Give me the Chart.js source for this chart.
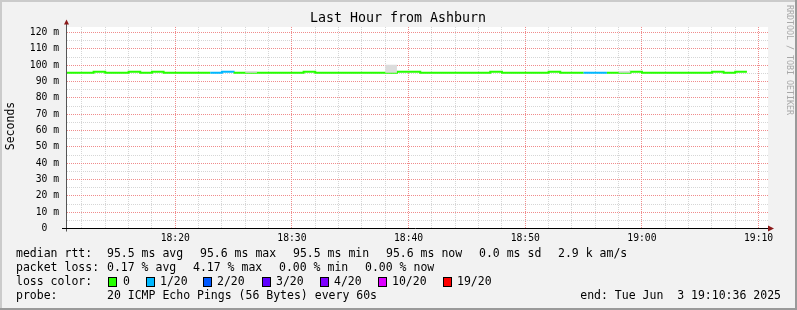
<!DOCTYPE html>
<html>
<head>
<meta charset="utf-8">
<title>Last Hour from Ashburn</title>
<style>
  body { margin: 0; background: #f2f2f2; }
  #wrap { position: relative; width: 797px; height: 310px; }
</style>
</head>
<body>
<div id="wrap"><canvas id="myChart" width="797" height="310"></canvas></div>
<script src="https://cdn.jsdelivr.net/npm/chart.js@4.4.1/dist/chart.umd.min.js"></script>
<script>
// one sample per minute, x = minutes after 18:00
var minutes = [10, 11, 12, 13, 14, 15, 16, 17, 18, 19,
               20, 21, 22, 23, 24, 25, 26, 27, 28, 29,
               30, 31, 32, 33, 34, 35, 36, 37, 38, 39,
               40, 41, 42, 43, 44, 45, 46, 47, 48, 49,
               50, 51, 52, 53, 54, 55, 56, 57, 58, 59,
               60, 61, 62, 63, 64, 65, 66, 67, 68, 69];
// median rtt in ms
var median = [95.3, 95.3, 95.3, 95.9, 95.3, 95.3, 95.9, 95.3, 95.9, 95.3,
              95.3, 95.3, 95.3, 95.3, 95.9, 95.3, 95.3, 95.3, 95.3, 95.3,
              95.3, 95.9, 95.3, 95.3, 95.3, 95.3, 95.3, 95.3, 95.3, 95.9,
              95.9, 95.3, 95.3, 95.3, 95.3, 95.3, 95.3, 95.9, 95.3, 95.3,
              95.3, 95.3, 95.9, 95.3, 95.3, 95.3, 95.3, 95.3, 95.3, 95.9,
              95.3, 95.3, 95.3, 95.3, 95.3, 95.3, 95.9, 95.3, 95.9, 95.9];
// lost pings out of 20
var loss = [0, 0, 0, 0, 0, 0, 0, 0, 0, 0,
            0, 0, 0, 1, 1, 0, 0, 0, 0, 0,
            0, 0, 0, 0, 0, 0, 0, 0, 0, 0,
            0, 0, 0, 0, 0, 0, 0, 0, 0, 0,
            0, 0, 0, 0, 0, 1, 1, 0, 0, 0,
            0, 0, 0, 0, 0, 0, 0, 0, 0, 0];
// top of the smoke (slowest pings), ms
var smokeTop = [95.3, 95.3, 95.3, 95.9, 95.3, 95.3, 95.9, 95.3, 95.9, 95.3,
                95.3, 95.3, 95.3, 95.3, 95.9, 95.3, 96.5, 95.3, 95.3, 95.3,
                95.3, 95.9, 95.3, 95.3, 95.3, 95.3, 95.3, 95.3, 100.2, 95.9,
                95.9, 95.3, 95.3, 95.3, 95.3, 95.3, 95.3, 95.9, 95.3, 95.3,
                95.3, 95.3, 95.9, 95.3, 95.3, 95.3, 95.3, 95.3, 96.5, 95.9,
                95.3, 95.3, 95.3, 95.3, 95.3, 95.3, 95.9, 95.3, 95.9, 95.9];

// grid / tick positions
var xTicks = [12, 14, 16, 18, 20, 22, 24, 26, 28, 30, 32, 34, 36, 38, 40,
              42, 44, 46, 48, 50, 52, 54, 56, 58, 60, 62, 64, 66, 68, 70];
var yTicks = [0, 5, 10, 15, 20, 25, 30, 35, 40, 45, 50, 55, 60,
              65, 70, 75, 80, 85, 90, 95, 100, 105, 110, 115, 120];

var lossSteps = [0, 1, 2, 3, 4, 10, 19];
var lossLabels = ['0', '1/20', '2/20', '3/20', '4/20', '10/20', '19/20'];
var lossColors = ['#26ff00', '#00b8ff', '#0059ff', '#5e00ff', '#7e00ff', '#dd00ff', '#ff0000'];

var xMin = 10.72, xMax = 70.72;   // 18:10:43 .. 19:10:43
var yMax = 122.45;

var MONO = '"DejaVu Sans Mono", monospace';
var MAJOR = '#f08c8c';
var MINOR = '#d6d6d6';

function lossColor(n) {
  var c = lossColors[0];
  for (var i = 0; i < lossSteps.length; i++) {
    if (n >= lossSteps[i]) c = lossColors[i];
  }
  return c;
}

function pts(arr) {
  return minutes.map(function (m, i) { return { x: m, y: arr[i] }; });
}

function hhmm(v) {
  var h = 18 + Math.floor(v / 60);
  var m = v % 60;
  return h + ':' + (m < 10 ? '0' : '') + m;
}

// rrdtool style dotted grid, placed through the chart's own scales
var rrdGrid = {
  id: 'rrdGrid',
  beforeDatasetsDraw: function (chart) {
    var ctx = chart.ctx, a = chart.chartArea;
    var sx = chart.scales.x, sy = chart.scales.y;
    ctx.save();
    ctx.lineWidth = 1;
    ctx.setLineDash([1, 1]);
    // minor lines first, major lines on top
    [false, true].forEach(function (major) {
      ctx.strokeStyle = major ? MAJOR : MINOR;
      xTicks.forEach(function (v) {
        if ((v % 10 === 0) !== major) return;
        var px = Math.round(sx.getPixelForValue(v) - 0.5) + 0.5;
        ctx.beginPath();
        ctx.moveTo(px, a.top - 1.5);
        ctx.lineTo(px, a.bottom);
        ctx.stroke();
      });
      yTicks.forEach(function (v) {
        if (v === 0 || (v % 10 === 0) !== major) return;
        var py = Math.round(sy.getPixelForValue(v) - 0.5) + 0.5;
        ctx.beginPath();
        ctx.moveTo(a.left, py);
        ctx.lineTo(a.right + 1, py);
        ctx.stroke();
      });
    });
    ctx.restore();
  }
};

var rrdFrame = {
  id: 'rrdFrame',
  beforeDraw: function (chart) {
    var ctx = chart.ctx, a = chart.chartArea;
    ctx.save();
    ctx.fillStyle = '#f2f2f2';
    ctx.fillRect(0, 0, 797, 310);
    ctx.fillStyle = '#cbcbcb';
    ctx.fillRect(0, 0, 797, 2);
    ctx.fillRect(0, 0, 2, 310);
    ctx.fillStyle = '#9a9a9a';
    ctx.fillRect(0, 308, 797, 2);
    ctx.fillRect(795, 0, 2, 310);
    ctx.fillStyle = '#ffffff';
    ctx.fillRect(a.left, a.top - 1.5, a.right - a.left + 1, a.bottom - a.top + 1.5);
    ctx.restore();
  },
  afterDraw: function (chart) {
    var ctx = chart.ctx, a = chart.chartArea;
    var by = Math.floor(a.bottom) + 0.5;
    ctx.save();
    // axes
    ctx.lineWidth = 1;
    ctx.strokeStyle = '#555555';
    ctx.beginPath();
    ctx.moveTo(a.left - 0.5, by + 3);
    ctx.lineTo(a.left - 0.5, a.top - 6);
    ctx.stroke();
    ctx.strokeStyle = '#000000';
    ctx.beginPath();
    ctx.moveTo(a.left - 5, by);
    ctx.lineTo(a.right + 2, by);
    ctx.stroke();
    ctx.fillStyle = '#8b1a1a';
    ctx.beginPath();
    ctx.moveTo(a.left - 3, a.top - 4);
    ctx.lineTo(a.left + 2, a.top - 4);
    ctx.lineTo(a.left - 0.5, a.top - 9);
    ctx.closePath();
    ctx.fill();
    ctx.beginPath();
    ctx.moveTo(a.right + 1, by - 3);
    ctx.lineTo(a.right + 1, by + 3);
    ctx.lineTo(a.right + 7, by);
    ctx.closePath();
    ctx.fill();

    // title
    ctx.fillStyle = '#000000';
    ctx.textBaseline = 'middle';
    ctx.textAlign = 'center';
    ctx.font = '13.3px ' + MONO;
    ctx.fillText('Last Hour from Ashburn', 398, 19);

    // vertical label
    ctx.font = '11.5px ' + MONO;
    ctx.save();
    ctx.translate(11, 126);
    ctx.rotate(-Math.PI / 2);
    ctx.fillText('Seconds', 0, 0);
    ctx.restore();

    // watermark
    ctx.save();
    ctx.fillStyle = '#a8a8a8';
    ctx.font = '8.3px ' + MONO;
    ctx.translate(789, 5);
    ctx.rotate(Math.PI / 2);
    ctx.textAlign = 'left';
    ctx.fillText('RRDTOOL / TOBI OETIKER', 0, 0);
    ctx.restore();

    // legend lines
    ctx.textAlign = 'left';
    ctx.font = '11.5px ' + MONO;
    var rows = [
      [254, [[16, 'median rtt:'], [107, '95.5 ms avg'], [200, '95.6 ms max'], [293, '95.5 ms min'],
             [386, '95.6 ms now'], [479, '0.0 ms sd'], [558, '2.9 k am/s']]],
      [268, [[16, 'packet loss:'], [107, '0.17 % avg'], [193, '4.17 % max'], [279, '0.00 % min'],
             [365, '0.00 % now']]],
      [282, [[16, 'loss color:']]],
      [296, [[16, 'probe:'], [107, '20 ICMP Echo Pings (56 Bytes) every 60s']]]
    ];
    rows.forEach(function (r) {
      r[1].forEach(function (t) { ctx.fillText(t[1], t[0], r[0]); });
    });
    var boxX = [108, 146, 203, 262, 320, 378, 443];
    var labX = [123, 160, 217, 276, 334, 392, 457];
    for (var i = 0; i < lossLabels.length; i++) {
      ctx.fillStyle = lossColors[i];
      ctx.fillRect(boxX[i] + 0.5, 277.5, 8, 9);
      ctx.strokeStyle = '#000000';
      ctx.strokeRect(boxX[i] + 0.5, 277.5, 8, 9);
      ctx.fillStyle = '#000000';
      ctx.fillText(lossLabels[i], labX[i], 282);
    }
    ctx.textAlign = 'right';
    ctx.fillText('end: Tue Jun  3 19:10:36 2025', 781, 296);
    ctx.restore();
  }
};

var ctx = document.getElementById('myChart').getContext('2d');
var chart = new Chart(ctx, {
  type: 'line',
  data: {
    datasets: [
      {
        label: 'smoke base',
        data: pts(median),
        stepped: true,
        borderWidth: 0,
        pointRadius: 0,
        fill: false
      },
      {
        label: 'smoke',
        data: pts(smokeTop),
        stepped: true,
        borderWidth: 0,
        pointRadius: 0,
        backgroundColor: '#dcdcdc',
        fill: '-1'
      },
      {
        label: 'median rtt',
        data: pts(median),
        stepped: true,
        borderWidth: 2,
        borderCapStyle: 'butt',
        pointRadius: 0,
        fill: false,
        borderColor: lossColors[0],
        segment: {
          borderColor: function (c) { return lossColor(loss[c.p0DataIndex]); }
        }
      }
    ]
  },
  plugins: [rrdFrame, rrdGrid],
  options: {
    responsive: false,
    animation: false,
    events: [],
    layout: { padding: { left: 0, right: 30, top: 28.5, bottom: 0 } },
    plugins: { legend: { display: false }, tooltip: { enabled: false } },
    scales: {
      x: {
        type: 'linear',
        min: xMin,
        max: xMax,
        afterFit: function (s) { s.height = 81.5; },
        afterBuildTicks: function (s) {
          s.ticks = xTicks.map(function (v) { return { value: v }; });
        },
        ticks: {
          autoSkip: false,
          maxRotation: 0,
          padding: 4,
          color: '#000000',
          font: { family: MONO, size: 9.7 },
          callback: function (v) { return v % 10 === 0 ? hhmm(v) : ''; }
        },
        grid: { display: false, drawTicks: false, tickLength: 0 },
        border: { display: false }
      },
      y: {
        type: 'linear',
        min: 0,
        max: yMax,
        afterFit: function (s) { s.width = 67; },
        afterBuildTicks: function (s) {
          s.ticks = yTicks.map(function (v) { return { value: v }; });
        },
        ticks: {
          autoSkip: false,
          padding: 8,
          color: '#000000',
          font: { family: MONO, size: 9.7 },
          callback: function (v) {
            if (v % 10 !== 0) return '';
            return v === 0 ? '0  ' : v + ' m';
          }
        },
        grid: { display: false, drawTicks: false, tickLength: 0 },
        border: { display: false }
      }
    }
  }
});
</script>
</body>
</html>
